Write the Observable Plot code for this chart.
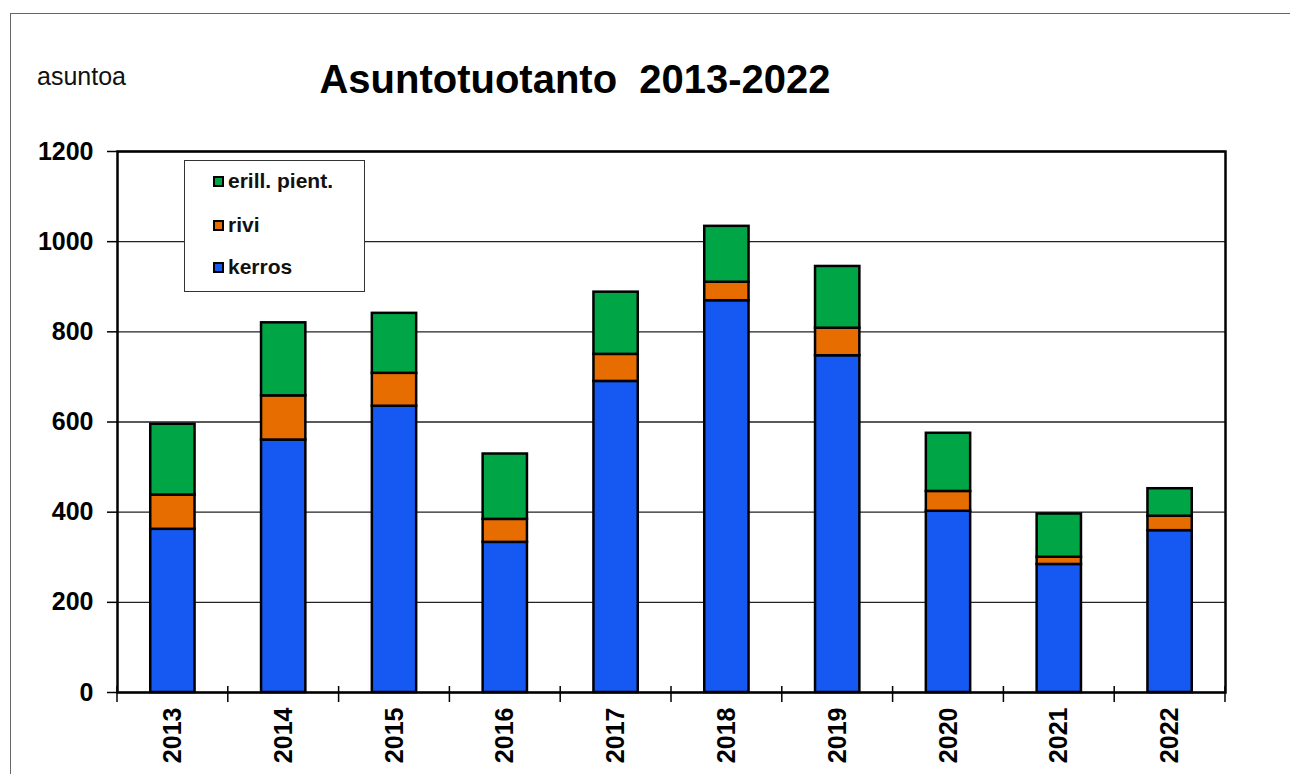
<!DOCTYPE html>
<html>
<head>
<meta charset="utf-8">
<script src="https://cdn.jsdelivr.net/npm/d3@7"></script>
<script src="https://cdn.jsdelivr.net/npm/@observablehq/plot@0.6"></script>
<style>
  html, body { margin: 0; padding: 0; background: #fff; }
  body { width: 1290px; height: 774px; position: relative; overflow: hidden; font-family: "Liberation Sans", Arial, sans-serif; }
  #outer { position: absolute; left: 10px; top: 13px; width: 1300px; height: 800px; border-top: 1.5px solid #666; border-left: 1.5px solid #666; }
  #chart { position: absolute; left: 0; top: 0; }
  #unit { position: absolute; left: 37px; top: 62px; font-size: 25px; color: #111; }
  #title { position: absolute; left: 0; width: 1150px; text-align: center; top: 57px; font-size: 40px; font-weight: bold; color: #000; white-space: pre; }
  #legend { position: absolute; left: 184px; top: 160px; width: 179px; height: 130px; border: 1.5px solid #333; background: #fff; }
  .item { position: absolute; left: 28px; font-size: 21px; font-weight: bold; color: #111; display: flex; align-items: center; }
  .sw { width: 7px; height: 7px; border: 2.5px solid #000; margin-right: 4px; }
</style>
</head>
<body>
<div id="outer"></div>
<div id="chart"></div>
<div id="unit">asuntoa</div>
<div id="title">Asuntotuotanto  2013-2022</div>
<div id="legend"></div>
<script>
const years = ["2013","2014","2015","2016","2017","2018","2019","2020","2021","2022"];
const kerros = [362, 560, 635, 333, 690, 869, 747, 402, 284, 359];
const rivi   = [ 76,  98,  73,  51,  60,  41,  61,  44,  16,  32];
const erill  = [157, 162, 133, 145, 138, 124, 137, 129,  96,  61];
const seriesNames = ["kerros", "rivi", "erill. pient."];
const seriesColors = ["#1559f2", "#e86d00", "#00a546"];
const yTicks = [0, 200, 400, 600, 800, 1000, 1200];

const seriesValues = [kerros, rivi, erill];
const rows = [];
years.forEach((yr, i) => {
  seriesNames.forEach((s, j) => rows.push({year: yr, type: s, value: seriesValues[j][i]}));
});

function boundaryTicks(index, scales, values, dims) {
  const x = scales.x;
  const y0 = dims.height - dims.marginBottom;
  const step = x.step(), bw = x.bandwidth();
  const cats = x.domain();
  const xs = cats.map(c => x(c) - (step - bw) / 2);
  xs.push(x(cats[cats.length - 1]) + bw + (step - bw) / 2);
  const g = d3.create("svg:g");
  g.selectAll("line").data(xs).join("line")
    .attr("x1", d => d).attr("x2", d => d)
    .attr("y1", y0 - 6).attr("y2", y0 + 10)
    .attr("stroke", "#000").attr("stroke-width", 1.5);
  return g.node();
}

const plot = Plot.plot({
  width: 1290,
  height: 774,
  marginLeft: 117,
  marginRight: 65,
  marginTop: 151,
  marginBottom: 82,
  style: { fontFamily: "'Liberation Sans', Arial, sans-serif", background: "transparent", color: "#000" },
  x: { domain: years, paddingInner: 0.6, paddingOuter: 0.3, round: false, label: null },
  y: { domain: [0, 1200], label: null },
  color: { domain: seriesNames, range: seriesColors },
  marks: [
    Plot.ruleY(yTicks, { stroke: "#222", strokeWidth: 1.3 }),
    Plot.barY(rows, { x: "year", y: "value", fill: "type", stroke: "#000", strokeWidth: 2.5 }),
    Plot.frame({ stroke: "#000", strokeWidth: 2.5 }),
    Plot.axisY({ ticks: yTicks, tickFormat: d => String(d), tickSize: 10, tickPadding: 14, fontSize: 25, fontWeight: "bold", stroke: "#000", strokeWidth: 1.5, label: null }),
    Plot.axisX({ tickSize: 0, tickPadding: 15, tickRotate: -90, fontSize: 25, fontWeight: "bold", label: null }),
    boundaryTicks
  ]
});
document.getElementById("chart").appendChild(plot);

const legend = document.getElementById("legend");
const order = [2, 1, 0];
const tops = [8, 52, 94];
order.forEach((j, k) => {
  const it = document.createElement("div");
  it.className = "item";
  it.style.top = tops[k] + "px";
  const sw = document.createElement("span");
  sw.className = "sw";
  sw.style.background = seriesColors[j];
  it.appendChild(sw);
  const t = document.createElement("span");
  t.textContent = seriesNames[j];
  it.appendChild(t);
  legend.appendChild(it);
});
</script>
</body>
</html>
